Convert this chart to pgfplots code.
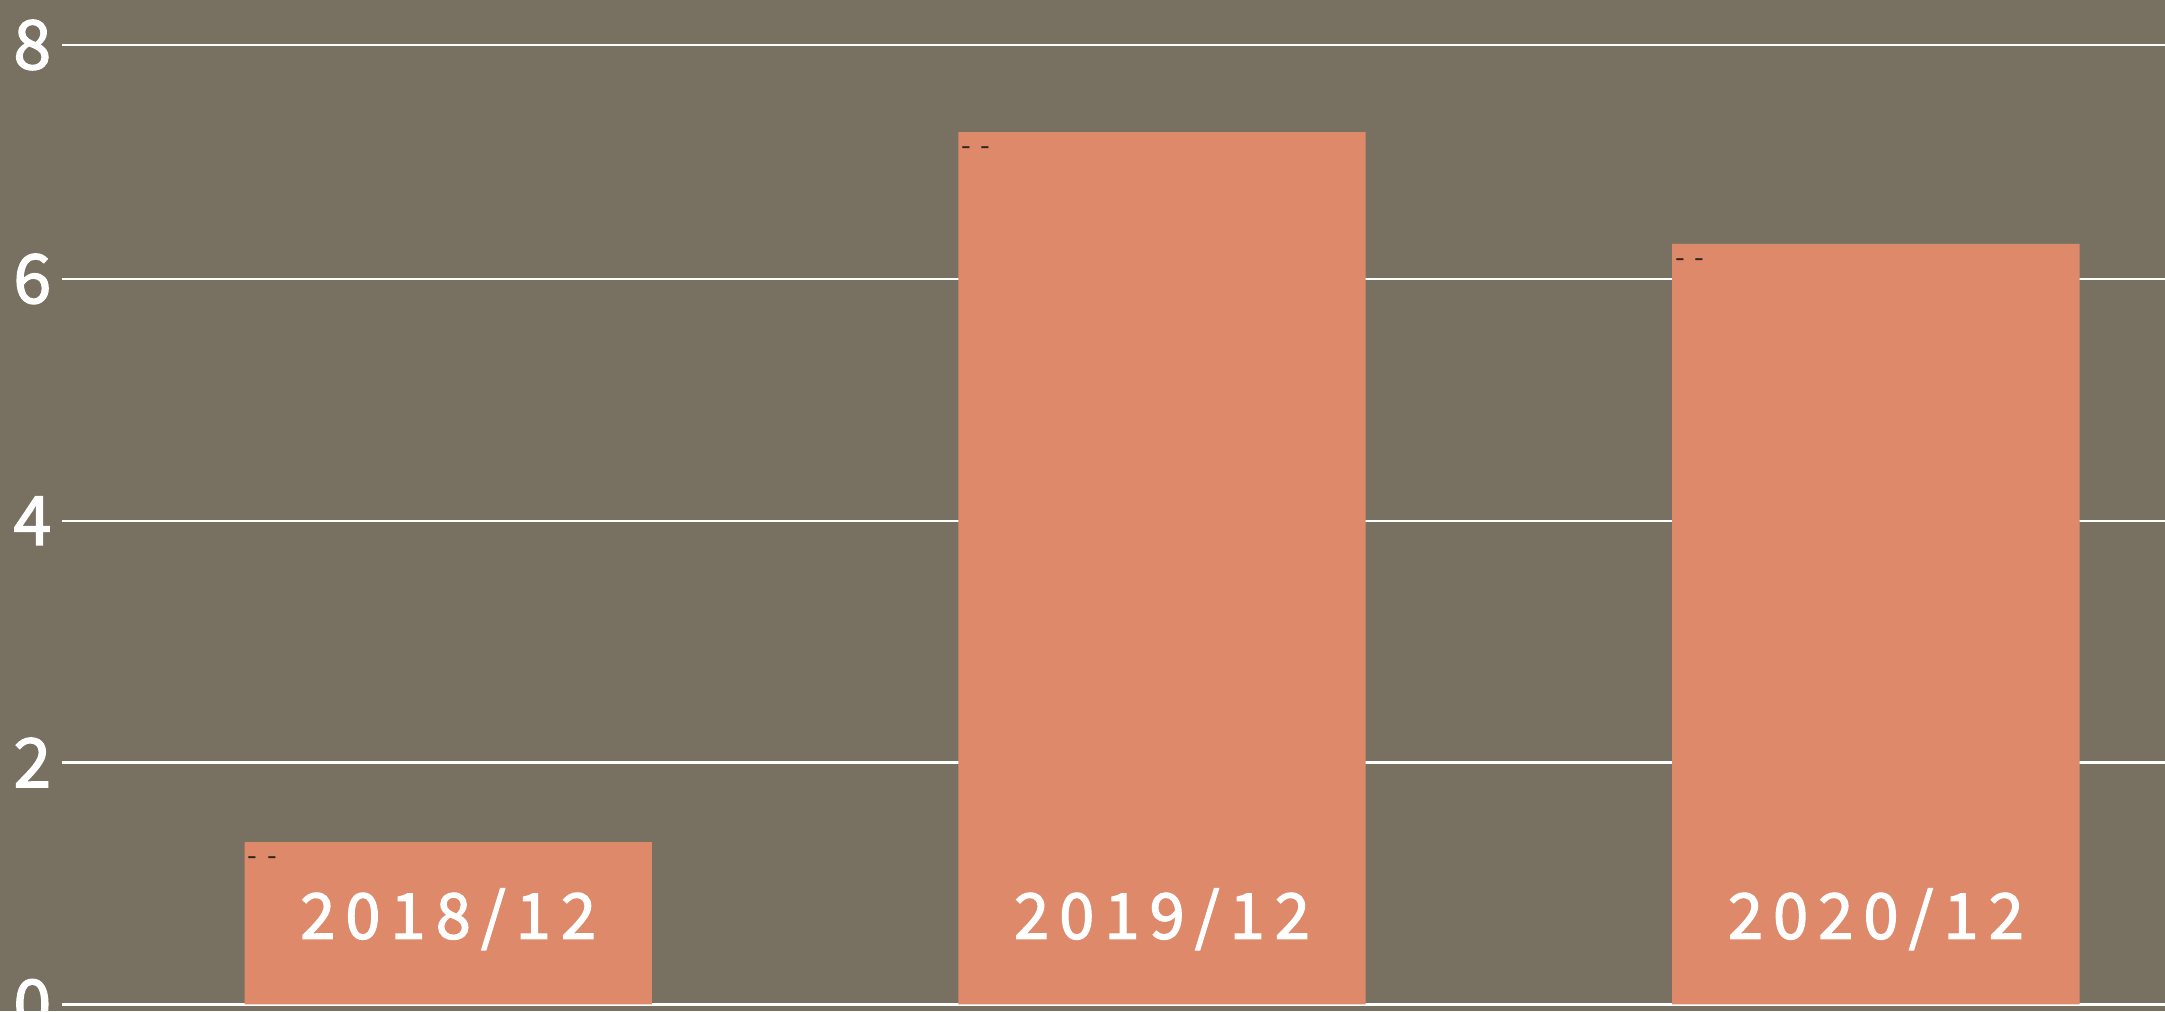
\documentclass[border=0pt]{standalone}
\usepackage{fontspec}
\setmainfont{Noto Sans CJK SC}
\newfontfamily\medfont[FakeBold=2]{Noto Sans CJK SC}
\usepackage{pgfplots}
\pgfplotsset{compat=1.18}
\definecolor{bgc}{RGB}{120,113,97}
\definecolor{barc}{RGB}{222,138,106}
\definecolor{dashc}{RGB}{50,35,30}
\newcommand{\catfont}{\medfont\fontsize{15.8}{15.8}\selectfont\addfontfeature{LetterSpace=16}}
\begin{document}
\begin{tikzpicture}
\fill[bgc] (-15.5pt,0) rectangle (525.75pt,252.75pt);
\begin{axis}[
  at={(0,0)}, anchor=south west,
  scale only axis, width=525.75pt, height=252.75pt,
  xmin=-0.541, xmax=2.405, ymin=-0.0554, ymax=8.307,
  ytick={0,2,4,6,7.935}, yticklabels={0,2,4,6,8}, xtick=\empty,
  ymajorgrids, major grid style={white, line width=0.6pt},
  axis line style={draw=none}, major tick length=0pt,
  yticklabel style={anchor=east, inner sep=0pt, xshift=-2.5pt, text=white, font=\medfont\fontsize{17}{17}\selectfont},
  ybar, bar width=0.5706,
]
\addplot[fill=barc, draw=none,
  nodes near coords={\fontsize{7}{7}\selectfont -\hspace{2.5pt}-},
  every node near coord/.style={anchor=north west, xshift=-50.4pt, yshift=-3.4pt, inner sep=0pt, text=dashc}]
  coordinates {(0,1.342) (1,7.215) (2,6.29)};
\node[anchor=center, inner sep=0pt, yshift=21.25pt, text=white, font=\catfont] at (axis cs:0,0) {2018/12};
\node[anchor=center, inner sep=0pt, yshift=21.25pt, text=white, font=\catfont] at (axis cs:1,0) {2019/12};
\node[anchor=center, inner sep=0pt, yshift=21.25pt, text=white, font=\catfont] at (axis cs:2,0) {2020/12};
\end{axis}
\pgfresetboundingbox
\path[use as bounding box] (-15.5pt,0) rectangle (525.75pt,252.75pt);
\end{tikzpicture}
\end{document}
